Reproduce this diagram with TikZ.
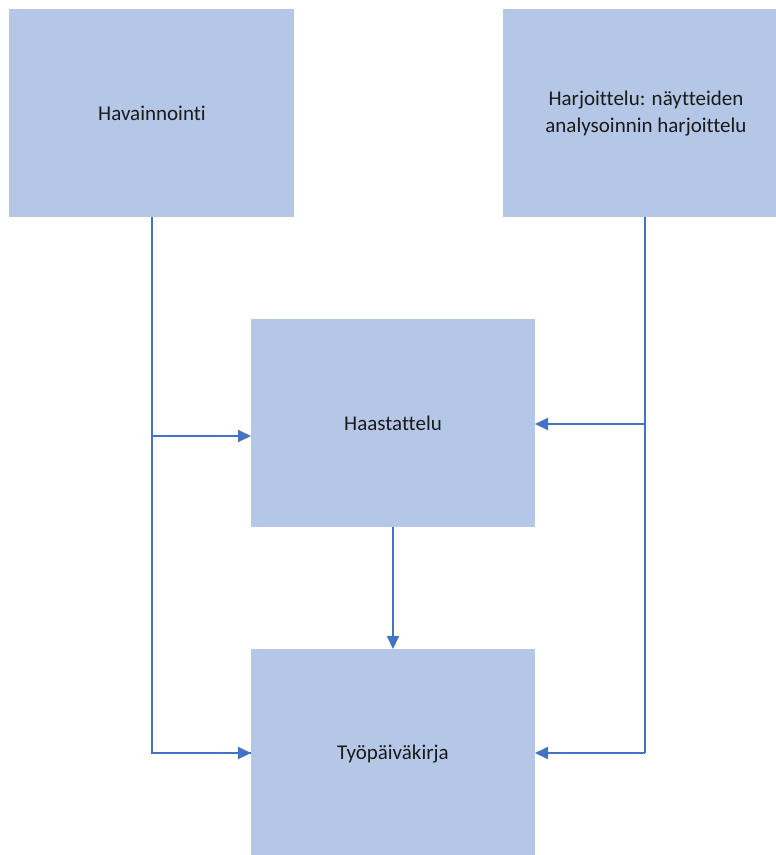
\documentclass[tikz,border=0pt]{standalone}
\usepackage{fontspec}
\setmainfont{Carlito}[Ligatures={NoCommon}]
\usetikzlibrary{arrows.meta}
\definecolor{boxfill}{HTML}{B4C7E7}
\definecolor{linecol}{HTML}{4472C4}
\definecolor{txt}{HTML}{1A1A1A}
\begin{document}
\begin{tikzpicture}[x=1pt,y=-1pt,
  lbl/.style={inner sep=0pt,align=center,text=txt,font=\fontsize{21}{27}\selectfont},
  conn/.style={draw=linecol,line width=2pt},
  arr/.style={conn,-{Triangle[length=13pt,width=12pt]}}]
\useasboundingbox (0,0) rectangle (776,855);
\fill[boxfill] (9,9) rectangle (294,217);
\node[lbl] (hav) at (152,113) {Havainnointi};
\coordinate (havb) at (152,217);
\fill[boxfill] (502.5,9) rectangle (776,217);
\node[lbl] (har) at (646,114) {Harjoittelu: näytteiden\\analysoinnin harjoittelu};
\coordinate (harb) at (645,217);
\fill[boxfill] (251,319) rectangle (535,527);
\node[lbl] (haa) at (393,423) {Haastattelu};
\fill[boxfill] (251,649) rectangle (535,855);
\node[lbl] (tyo) at (393,754) {Työpäiväkirja};
\coordinate (haaL) at (251,436);
\coordinate (haaR) at (535,424);
\coordinate (haaB) at (393,527);
\coordinate (tyoT) at (393,649);
\coordinate (tyoL) at (251,753);
\coordinate (tyoR) at (535,753);
\coordinate (lj) at (152,436);
\coordinate (rj) at (645,424);
\draw[conn] (havb) -- (152,753) -- (tyoL);
\draw[arr] (152,753) -- (tyoL);
\draw[arr] (lj) -- (haaL);
\draw[conn] (harb) -- (645,753);
\draw[arr] (645,753) -- (tyoR);
\draw[arr] (rj) -- (haaR);
\draw[arr] (haaB) -- (tyoT);
\end{tikzpicture}
\end{document}
